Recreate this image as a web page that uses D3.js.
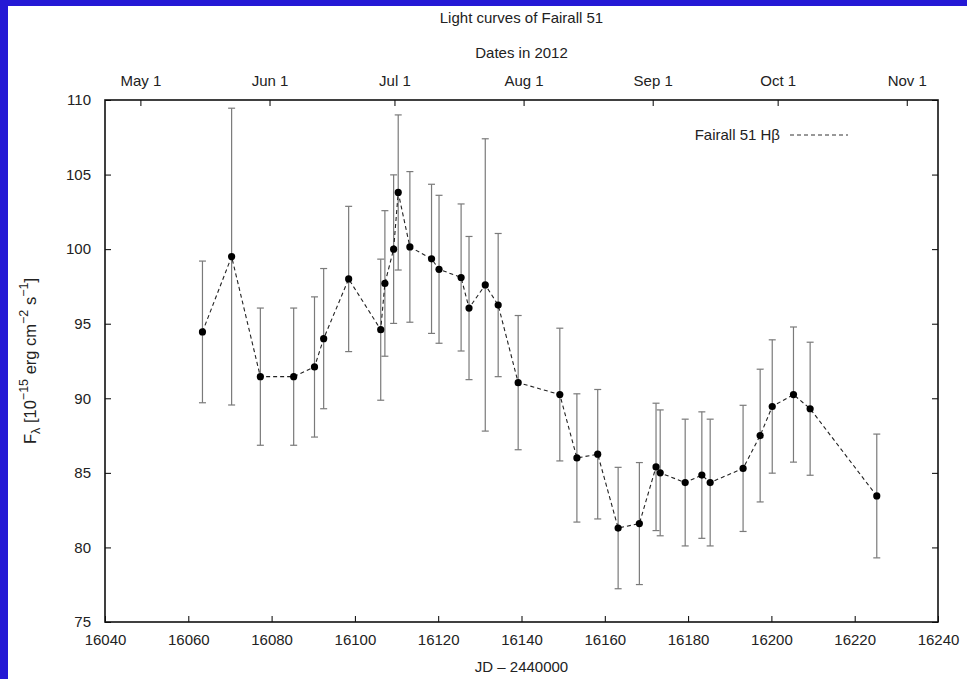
<!DOCTYPE html>
<html>
<head>
<meta charset="utf-8">
<script src="https://cdn.jsdelivr.net/npm/d3@7"></script>
<style>
  body { margin: 0; background: #fff; }
  svg { display: block; font-family: "Liberation Sans", Arial, sans-serif; }
</style>
</head>
<body>
<div id="chart"></div>
<script>
// Hbeta light curve of Fairall 51 (JD - 2440000, flux, 1-sigma error)
const jd = [16063.4, 16070.4, 16077.3, 16085.3, 16090.3, 16092.5, 16098.5, 16106.2, 16107.2, 16109.3,
            16110.4, 16113.2, 16118.4, 16120.2, 16125.5, 16127.4, 16131.3, 16134.4, 16139.2, 16149.2,
            16153.3, 16158.3, 16163.2, 16168.3, 16172.3, 16173.3, 16179.3, 16183.3, 16185.3, 16193.2,
            16197.3, 16200.2, 16205.3, 16209.3, 16225.3];
const flux = [94.45, 99.5, 91.45, 91.45, 92.1, 94.0, 98.0, 94.6, 97.7, 100.0,
              103.8, 100.15, 99.35, 98.65, 98.1, 96.05, 97.6, 96.25, 91.05, 90.25,
              86.0, 86.25, 81.3, 81.6, 85.4, 85.0, 84.35, 84.85, 84.35, 85.3,
              87.5, 89.45, 90.25, 89.3, 83.45];
const err = [4.75, 9.95, 4.6, 4.6, 4.7, 4.7, 4.87, 4.73, 4.88, 4.98,
             5.2, 5.05, 5.0, 4.96, 4.93, 4.8, 9.8, 4.8, 4.5, 4.45,
             4.3, 4.34, 4.07, 4.09, 4.27, 4.22, 4.25, 4.24, 4.25, 4.23,
             4.45, 4.47, 4.53, 4.46, 4.15];

// top axis: first of each month in 2012, as JD - 2440000
const monthLabels = ["May 1", "Jun 1", "Jul 1", "Aug 1", "Sep 1", "Oct 1", "Nov 1"];
const monthJD = [16048.5, 16079.5, 16109.5, 16140.5, 16171.5, 16201.5, 16232.5];

const xTicks = d3.range(16040, 16241, 20);
const yTicks = d3.range(75, 111, 5);

const width = 967, height = 679;
const margin = { top: 100, right: 29, bottom: 57, left: 105 };

const data = jd.map((d, i) => ({ jd: d, f: flux[i], e: err[i] }));

const svg = d3.select("#chart").append("svg")
    .attr("width", width)
    .attr("height", height);

// blue slide border (top and left)
svg.append("rect").attr("x", 0).attr("y", 0).attr("width", width).attr("height", 6).attr("fill", "#2519d5");
svg.append("rect").attr("x", 0).attr("y", 0).attr("width", 8).attr("height", height).attr("fill", "#2519d5");

const x = d3.scaleLinear()
    .domain([16040, 16240])
    .range([margin.left, width - margin.right]);

const y = d3.scaleLinear()
    .domain([75, 110])
    .range([height - margin.bottom, margin.top]);

const tickLen = 6;

// bottom axis
svg.append("g")
    .attr("transform", `translate(0,${y(75)})`)
    .call(d3.axisBottom(x).tickValues(xTicks).tickSize(-tickLen).tickPadding(12).tickFormat(d3.format("d")))
    .call(g => g.select(".domain").remove())
    .call(g => g.selectAll("text").attr("font-size", 15).attr("fill", "#222"));

// top axis with months
svg.append("g")
    .attr("transform", `translate(0,${y(110)})`)
    .call(d3.axisTop(x).tickValues(monthJD).tickSize(-tickLen).tickPadding(14)
        .tickFormat((d, i) => monthLabels[i]))
    .call(g => g.select(".domain").remove())
    .call(g => g.selectAll("text").attr("font-size", 15).attr("fill", "#222"));

// left axis
svg.append("g")
    .attr("transform", `translate(${x(16040)},0)`)
    .call(d3.axisLeft(y).tickValues(yTicks).tickSize(-tickLen).tickPadding(14))
    .call(g => g.select(".domain").remove())
    .call(g => g.selectAll("text").attr("font-size", 15).attr("fill", "#222"));

// right axis (ticks only)
svg.append("g")
    .attr("transform", `translate(${x(16240)},0)`)
    .call(d3.axisRight(y).tickValues(yTicks).tickSize(-tickLen).tickFormat(""))
    .call(g => g.select(".domain").remove());

// frame
svg.append("rect")
    .attr("x", x(16040))
    .attr("y", y(110))
    .attr("width", x(16240) - x(16040))
    .attr("height", y(75) - y(110))
    .attr("fill", "none")
    .attr("stroke", "#111")
    .attr("stroke-width", 1.6);

// error bars
const eb = svg.append("g").attr("stroke", "#7a7a7a").attr("stroke-width", 1.2);
eb.selectAll("line.v").data(data).enter().append("line")
    .attr("x1", d => x(d.jd)).attr("x2", d => x(d.jd))
    .attr("y1", d => y(d.f - d.e)).attr("y2", d => y(d.f + d.e));
eb.selectAll("line.t").data(data).enter().append("line")
    .attr("x1", d => x(d.jd) - 3.5).attr("x2", d => x(d.jd) + 3.5)
    .attr("y1", d => y(d.f + d.e)).attr("y2", d => y(d.f + d.e));
eb.selectAll("line.b").data(data).enter().append("line")
    .attr("x1", d => x(d.jd) - 3.5).attr("x2", d => x(d.jd) + 3.5)
    .attr("y1", d => y(d.f - d.e)).attr("y2", d => y(d.f - d.e));

// dashed light curve
const line = d3.line().x(d => x(d.jd)).y(d => y(d.f));
svg.append("path")
    .datum(data)
    .attr("d", line)
    .attr("fill", "none")
    .attr("stroke", "#222")
    .attr("stroke-width", 1.1)
    .attr("stroke-dasharray", "4,3");

// points
svg.append("g").selectAll("circle")
    .data(data)
    .enter().append("circle")
    .attr("cx", d => x(d.jd))
    .attr("cy", d => y(d.f))
    .attr("r", 3.6)
    .attr("fill", "#000");

// legend
svg.append("text")
    .attr("x", 780).attr("y", 140)
    .attr("text-anchor", "end")
    .attr("font-size", 15).attr("fill", "#222")
    .text("Fairall 51 Hβ");
svg.append("line")
    .attr("x1", 790).attr("x2", 848)
    .attr("y1", 135).attr("y2", 135)
    .attr("stroke", "#333").attr("stroke-width", 1)
    .attr("stroke-dasharray", "4,3");

// titles
const cx = (x(16040) + x(16240)) / 2;
svg.append("text")
    .attr("x", cx).attr("y", 23)
    .attr("text-anchor", "middle")
    .attr("font-size", 15).attr("fill", "#222")
    .text("Light curves of Fairall 51");
svg.append("text")
    .attr("x", cx).attr("y", 58)
    .attr("text-anchor", "middle")
    .attr("font-size", 15).attr("fill", "#222")
    .text("Dates in 2012");
svg.append("text")
    .attr("x", cx).attr("y", 672)
    .attr("text-anchor", "middle")
    .attr("font-size", 15).attr("fill", "#222")
    .text("JD – 2440000");

// y label with sub/superscripts
const yl = svg.append("text")
    .attr("transform", `translate(36,${(y(75) + y(110)) / 2}) rotate(-90)`)
    .attr("text-anchor", "middle")
    .attr("font-size", 16.5).attr("fill", "#222");
yl.append("tspan").text("F");
yl.append("tspan").attr("font-size", 12.5).attr("dy", 4).text("λ");
yl.append("tspan").attr("dy", -4).text(" [10");
yl.append("tspan").attr("font-size", 12.5).attr("dy", -8).text("−15");
yl.append("tspan").attr("dy", 8).text(" erg cm");
yl.append("tspan").attr("font-size", 12.5).attr("dy", -8).text("−2");
yl.append("tspan").attr("dy", 8).text(" s");
yl.append("tspan").attr("font-size", 12.5).attr("dy", -8).text("−1");
yl.append("tspan").attr("dy", 8).text("]");
</script>
</body>
</html>
